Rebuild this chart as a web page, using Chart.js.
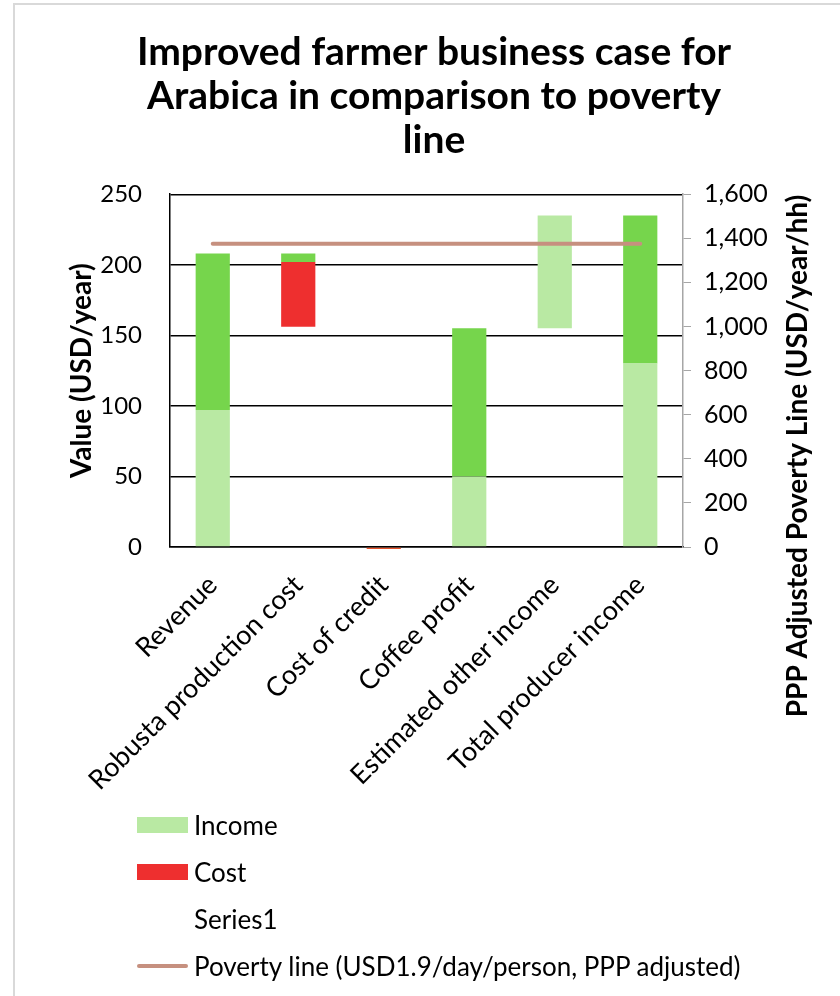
<!DOCTYPE html>
<html>
<head>
<meta charset="utf-8">
<script src="https://cdn.jsdelivr.net/npm/chart.js@4.4.1/dist/chart.umd.min.js"></script>
<style>
  body { margin: 0; background: #fff; font-family: Lato, sans-serif; }
  #wrap { position: relative; width: 840px; height: 996px; overflow: hidden; }
  #frame { position: absolute; left: 13px; top: 3px; width: 840px; height: 1000px;
           border-left: 2px solid #d9d9d9; border-top: 2px solid #d9d9d9; }
  canvas { position: absolute; left: 0; top: 0; }
  #legend { position: absolute; left: 137px; top: 801px; }
  .item { display: flex; align-items: center; height: 47px; font-size: 26px; color: #000; }
  .swatch { width: 51px; height: 16px; margin-right: 6px; }
  .swatch.line { height: 4px; border-radius: 2px; }
</style>
</head>
<body>
<div id="wrap">
  <div id="frame"></div>
  <canvas id="wfChart" width="840" height="996"></canvas>
  <div id="legend"></div>
</div>
<script>
// Chart data
const categories = ['Revenue', 'Robusta production cost', 'Cost of credit', 'Coffee profit', 'Estimated other income', 'Total producer income'];
const baseValues = [0, 156, 0, 0, 155, 0];      // Series1 (invisible offset)
const incomeValues = [97, 0, 0, 50, 80, 130];
const costValues = [0, 46, -1.5, 0, 0, 0];
const gainValues = [111, 6, 0, 105, 0, 105];
const povertyValues = [1375, 1375, 1375, 1375, 1375, 1375];
const leftTicks = [0, 50, 100, 150, 200, 250];
const rightTicks = [0, 200, 400, 600, 800, 1000, 1200, 1400, 1600];

const povertyLabel = 'Poverty line (USD1.9/day/person, PPP adjusted)';
const rightTitleText = 'PPP Adjusted Poverty Line (USD/year/hh)';

Chart.defaults.font.family = 'Lato, sans-serif';
Chart.defaults.color = '#000';

// right axis title reads bottom-to-top like the original
const rightTitle = {
    id: 'rightTitle',
    afterDraw(chart) {
        const ctx = chart.ctx;
        const s = chart.scales.y2;
        ctx.save();
        ctx.translate(s.left + 115, 456);
        ctx.rotate(-Math.PI / 2);
        ctx.font = 'bold 28px Lato';
        ctx.textAlign = 'center';
        ctx.textBaseline = 'middle';
        ctx.fillStyle = '#000';
        ctx.fillText(rightTitleText, 0, 0);
        ctx.restore();
    }
};

const ctx = document.getElementById('wfChart').getContext('2d');
const wfChart = new Chart(ctx, {
    type: 'bar',
    data: {
        labels: categories,
        datasets: [
            {
                type: 'line',
                label: povertyLabel,
                data: povertyValues,
                yAxisID: 'y2',
                borderColor: '#c6907f',
                borderWidth: 4,
                borderCapStyle: 'round',
                pointRadius: 0
            },
            {
                label: 'Series1',
                data: baseValues,
                backgroundColor: 'rgba(0,0,0,0)'
            },
            {
                label: 'Income',
                data: incomeValues,
                backgroundColor: '#b9e9a3'
            },
            {
                label: 'Cost',
                data: costValues,
                backgroundColor: ['#ee2f2f', '#ee2f2f', '#e8532b', '#ee2f2f', '#ee2f2f', '#ee2f2f'],
                clip: false
            },
            {
                label: 'Gain',
                data: gainValues,
                backgroundColor: '#76d54c'
            }
        ]
    },
    options: {
        responsive: false,
        animation: false,
        layout: { padding: { left: 28, right: 0, top: 0, bottom: 0 } },
        datasets: {
            bar: { barPercentage: 0.4, categoryPercentage: 1, stack: 'wf' }
        },
        scales: {
            x: {
                stacked: true,
                grid: { display: false },
                border: { color: '#000', width: 1.5 },
                ticks: { font: { size: 27 }, maxRotation: 45, minRotation: 45, padding: 14 },
                afterFit: (scale) => { scale.height = 449; }
            },
            y: {
                stacked: true,
                position: 'left',
                min: 0,
                max: 250,
                afterBuildTicks: (scale) => { scale.ticks = leftTicks.map(v => ({ value: v })); },
                grid: { color: '#000', lineWidth: 1.4, drawTicks: false },
                border: { color: '#000', width: 1.5 },
                ticks: { font: { size: 24 }, padding: 28 },
                title: {
                    display: true,
                    text: 'Value (USD/year)',
                    font: { size: 28, weight: 'bold' },
                    padding: { top: 37, bottom: 0 }
                },
                afterFit: (scale) => { scale.width = 142; }
            },
            y2: {
                position: 'right',
                min: 0,
                max: 1600,
                afterBuildTicks: (scale) => { scale.ticks = rightTicks.map(v => ({ value: v })); },
                grid: { drawOnChartArea: false, color: '#a6a6a6', tickLength: 8 },
                border: { color: '#a6a6a6', width: 1.5 },
                ticks: {
                    font: { size: 25 },
                    padding: 13,
                    callback: (v) => Number(v).toLocaleString('en-US')
                },
                afterFit: (scale) => { scale.width = 157; }
            }
        },
        plugins: {
            legend: { display: false },
            tooltip: { enabled: false },
            title: {
                display: true,
                text: ['Improved farmer business case for', 'Arabica in comparison to poverty', 'line'],
                font: { size: 39, weight: 'bold', lineHeight: 1.13 },
                color: '#000',
                padding: { top: 30, bottom: 32 }
            }
        }
    },
    plugins: [rightTitle]
});

// Legend, listed like the original
const legendOrder = ['Income', 'Cost', 'Series1', povertyLabel];
const legendBox = document.getElementById('legend');
legendOrder.forEach((name) => {
    const ds = wfChart.data.datasets.find(d => d.label === name);
    const isLine = ds.type === 'line';
    const color = isLine ? ds.borderColor : (Array.isArray(ds.backgroundColor) ? ds.backgroundColor[0] : ds.backgroundColor);
    legendBox.insertAdjacentHTML('beforeend', `
        <div class="item">
            <span class="swatch${isLine ? ' line' : ''}" style="background:${color}"></span>
            <span>${name}</span>
        </div>`);
});
</script>
</body>
</html>
